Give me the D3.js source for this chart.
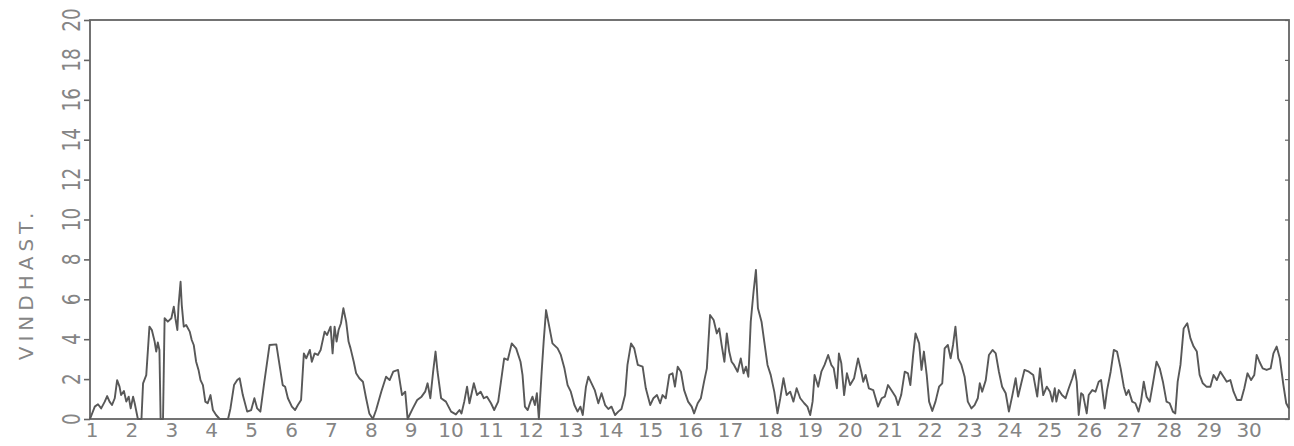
<!DOCTYPE html>
<html>
<head>
<meta charset="utf-8">
<script src="https://cdn.jsdelivr.net/npm/d3@7"></script>
<style>
  body { margin: 0; background: #fff; }
  svg { display: block; }
</style>
</head>
<body>
<svg id="chart" width="1294" height="446"></svg>
<script>
// Hourly wind speed over one month (time in days from the start of day 1, speed in m/s)
const days = [
  0.00, 0.12, 0.20, 0.28, 0.37, 0.43, 0.49, 0.55, 0.62, 0.68, 0.74, 0.78, 0.85, 0.91, 0.97,
  1.02, 1.08, 1.12, 1.20, 1.29, 1.33, 1.41, 1.49, 1.55, 1.62, 1.66, 1.70, 1.74, 1.77, 1.83,
  1.87, 1.95, 2.04, 2.10, 2.14, 2.19, 2.22, 2.27, 2.30, 2.35, 2.41, 2.50, 2.55, 2.60, 2.66,
  2.72, 2.77, 2.83, 2.89, 2.95, 3.02, 3.08, 3.16, 3.25, 3.46, 3.52, 3.61, 3.69, 3.75, 3.83,
  3.94, 4.04, 4.12, 4.19, 4.27, 4.37, 4.50, 4.67, 4.75, 4.83, 4.89, 4.96, 5.06, 5.14, 5.21,
  5.29, 5.36, 5.42, 5.51, 5.56, 5.63, 5.71, 5.78, 5.88, 5.94,
  6.03, 6.08, 6.13, 6.18, 6.23, 6.29, 6.35, 6.42, 6.48, 6.53, 6.61, 6.67, 6.75, 6.84, 6.92,
  7.00, 7.09, 7.17, 7.30, 7.42, 7.51, 7.60, 7.72, 7.82, 7.90, 7.96, 8.09, 8.20, 8.31, 8.40,
  8.46, 8.53, 8.60, 8.66, 8.71, 8.80, 8.92, 9.05, 9.17, 9.26, 9.31, 9.38, 9.45, 9.51, 9.62,
  9.70, 9.79, 9.87, 9.95, 10.05, 10.13, 10.23, 10.30, 10.38, 10.47, 10.57, 10.68, 10.79, 10.84, 10.90,
  10.97, 11.04, 11.09, 11.15, 11.20, 11.25, 11.32, 11.37, 11.43, 11.51, 11.59, 11.72, 11.80, 11.89, 11.97,
  12.05, 12.14, 12.22, 12.29, 12.35, 12.43, 12.49, 12.57, 12.65, 12.74, 12.82, 12.91, 12.99, 13.07, 13.16,
  13.24, 13.32, 13.41, 13.47, 13.56, 13.64, 13.73, 13.85, 13.93, 14.04, 14.12, 14.21, 14.29, 14.35, 14.43,
  14.52, 14.60, 14.66, 14.73, 14.81, 14.89, 14.99, 15.08, 15.14, 15.23, 15.31, 15.39, 15.46, 15.54, 15.63,
  15.71, 15.77, 15.83, 15.90, 15.96, 16.02, 16.08, 16.14, 16.23, 16.31, 16.38, 16.44, 16.50, 16.56, 16.63,
  16.69, 16.74, 16.83, 16.91, 16.98, 17.06, 17.15, 17.23, 17.30, 17.38, 17.46, 17.55, 17.63, 17.71, 17.80,
  17.90, 17.98, 18.05, 18.11, 18.16, 18.25, 18.33, 18.41, 18.50, 18.58, 18.64, 18.72, 18.77, 18.83, 18.90,
  18.97, 19.05, 19.15, 19.25, 19.33, 19.38, 19.44, 19.52, 19.63, 19.75, 19.84, 19.92, 20.00, 20.11, 20.19,
  20.25, 20.33, 20.42, 20.50, 20.56, 20.63, 20.69, 20.78, 20.84, 20.90, 20.97, 21.03, 21.11, 21.19, 21.28,
  21.36, 21.42, 21.50, 21.57, 21.63, 21.69, 21.76, 21.84, 21.92, 22.00, 22.09, 22.17, 22.25, 22.30, 22.36,
  22.45, 22.53, 22.62, 22.70, 22.78, 22.86, 22.95, 23.03, 23.11, 23.20, 23.26, 23.34, 23.42, 23.53, 23.64,
  23.74, 23.81, 23.89, 23.98, 24.06, 24.12, 24.18, 24.22, 24.28, 24.36, 24.45, 24.53, 24.62, 24.68, 24.73,
  24.78, 24.84, 24.89, 24.98, 25.03, 25.12, 25.20, 25.28, 25.34, 25.43, 25.49, 25.58, 25.66, 25.74, 25.83,
  25.91, 25.97, 26.03, 26.12, 26.20, 26.28, 26.34, 26.41, 26.48, 26.56, 26.64, 26.73, 26.81, 26.89, 26.98,
  27.06, 27.14, 27.20, 27.26, 27.33, 27.41, 27.50, 27.58, 27.66, 27.74, 27.81, 27.89, 27.98, 28.08, 28.16,
  28.24, 28.33, 28.41, 28.49, 28.58, 28.66, 28.75, 28.85, 28.93, 29.01, 29.10, 29.18, 29.24, 29.31, 29.39,
  29.49, 29.59, 29.66, 29.74, 29.82, 29.91, 29.98, 30.05
];
const speeds = [
  0.00, 0.62, 0.74, 0.53, 0.87, 1.15, 0.87, 0.70, 1.04, 1.95, 1.62, 1.20, 1.40, 0.87, 1.12,
  0.53, 1.12, 0.79, 0.00, 0.00, 1.79, 2.20, 4.63, 4.46, 3.88, 3.38, 3.84, 3.46, 0.00, 0.00,
  5.05, 4.88, 5.05, 5.63, 5.05, 4.46, 5.71, 6.88, 5.71, 4.63, 4.71, 4.38, 3.96, 3.71, 2.87,
  2.46, 1.95, 1.70, 0.87, 0.79, 1.20, 0.45, 0.20, 0.00, 0.00, 0.53, 1.70, 1.95, 2.04, 1.20,
  0.37, 0.45, 1.04, 0.53, 0.37, 1.87, 3.71, 3.74, 2.71, 1.70, 1.62, 1.04, 0.62, 0.45, 0.70,
  0.95, 3.29, 3.04, 3.46, 2.87, 3.29, 3.21, 3.46, 4.38, 4.21,
  4.63, 3.29, 4.63, 3.88, 4.46, 4.80, 5.55, 4.88, 3.88, 3.54, 2.87, 2.29, 2.04, 1.87, 1.04,
  0.28, 0.00, 0.45, 1.37, 2.12, 1.95, 2.37, 2.46, 1.20, 1.37, 0.00, 0.53, 0.95, 1.12, 1.37,
  1.79, 1.04, 2.37, 3.38, 2.37, 1.04, 0.87, 0.37, 0.23, 0.45, 0.28, 0.87, 1.62, 0.79, 1.79,
  1.20, 1.37, 1.04, 1.12, 0.79, 0.45, 0.87, 1.87, 3.04, 2.96, 3.79, 3.54, 2.87, 2.21, 0.62,
  0.45, 0.87, 1.12, 0.70, 1.29, 0.00, 2.37, 3.88, 5.46, 4.63, 3.79, 3.54, 3.21, 2.54, 1.70,
  1.37, 0.70, 0.37, 0.62, 0.20, 1.62, 2.12, 1.79, 1.45, 0.79, 1.29, 0.70, 0.50, 0.62, 0.20,
  0.37, 0.50, 1.20, 2.71, 3.79, 3.54, 2.71, 2.62, 1.54, 0.70, 1.04, 1.20, 0.79, 1.20, 1.04,
  2.21, 2.29, 1.62, 2.62, 2.37, 1.45, 0.87, 0.62, 0.28, 0.79, 1.04, 1.87, 2.54, 5.21, 4.96,
  4.29, 4.54, 3.71, 2.87, 4.29, 3.38, 2.87, 2.71, 2.37, 3.04, 2.29, 2.62, 2.12, 4.88, 6.38,
  7.47, 5.55, 4.88, 3.71, 2.71, 2.21, 1.37, 0.28, 1.04, 2.04, 1.20, 1.37, 0.87, 1.54, 1.04,
  0.79, 0.62, 0.20, 0.87, 2.21, 1.62, 2.37, 2.71, 3.21, 2.71, 2.54, 1.54, 3.29, 2.79, 1.20,
  2.29, 1.70, 2.04, 3.04, 2.37, 1.87, 2.21, 1.54, 1.45, 0.62, 1.04, 1.12, 1.70, 1.37, 1.12,
  0.70, 1.20, 2.37, 2.29, 1.70, 3.21, 4.29, 3.79, 2.46, 3.38, 2.21, 0.87, 0.40, 0.87, 1.62,
  1.79, 3.54, 3.71, 3.04, 3.71, 4.63, 3.04, 2.71, 2.12, 0.87, 0.53, 0.70, 1.04, 1.79, 1.37,
  1.95, 3.21, 3.46, 3.29, 2.37, 1.62, 1.29, 0.37, 1.12, 2.04, 1.12, 1.79, 2.46, 2.37, 2.21,
  1.12, 2.54, 1.20, 1.62, 1.37, 0.87, 1.54, 0.87, 1.45, 1.20, 1.04, 1.54, 2.04, 2.46, 1.87,
  0.20, 1.29, 1.20, 0.28, 1.20, 1.45, 1.37, 1.87, 1.95, 0.53, 1.45, 2.37, 3.46, 3.38, 2.54,
  1.62, 1.20, 1.45, 0.87, 0.79, 0.37, 0.87, 1.87, 1.12, 0.87, 1.79, 2.87, 2.54, 1.87, 0.87,
  0.79, 0.37, 0.28, 1.87, 2.71, 4.54, 4.80, 4.04, 3.63, 3.38, 2.21, 1.79, 1.62, 1.62, 2.21,
  1.95, 2.37, 2.12, 1.87, 1.95, 1.37, 0.95, 0.95, 1.54, 2.29, 1.95, 2.21, 3.21, 2.87, 2.54,
  2.46, 2.54, 3.29, 3.63, 3.04, 1.70, 0.79, 0.53
];

const yTicks = [0, 2, 4, 6, 8, 10, 12, 14, 16, 18, 20];
const dayLabels = d3.range(1, 31);
const yTitle = "VINDHAST.";

const svg = d3.select("#chart");

const x = d3.scaleLinear().domain([0, 30.05]).range([90, 1289]);
const y = d3.scaleLinear().domain([0, 20]).range([419, 20]);

const inkAxis = "#646464";
const inkText = "#858585";
const inkLine = "#585858";

// slight softening for the plotted trace
const defs = svg.append("defs");
defs.append("filter").attr("id", "soft")
  .append("feGaussianBlur").attr("stdDeviation", 0.5);

// frame
svg.append("rect")
  .attr("x", x(0)).attr("y", y(20))
  .attr("width", x(30.05) - x(0)).attr("height", y(0) - y(20))
  .attr("fill", "none").attr("stroke", inkAxis).attr("stroke-width", 1.8);

// left ticks
const left = svg.append("g").attr("transform", `translate(${x(0)},0)`)
  .call(d3.axisLeft(y).tickValues(yTicks).tickSize(6).tickSizeOuter(0).tickFormat(""));
left.select(".domain").remove();
left.selectAll("line").attr("stroke", inkAxis).attr("stroke-width", 1.6);

// right ticks, pointing inward
const right = svg.append("g").attr("transform", `translate(${x(30.05)},0)`)
  .call(d3.axisLeft(y).tickValues(yTicks).tickSize(4).tickSizeOuter(0).tickFormat(""));
right.select(".domain").remove();
right.selectAll("line").attr("stroke", inkAxis).attr("stroke-width", 1.2);

// y tick labels, rotated
svg.append("g").selectAll("text").data(yTicks).join("text")
  .attr("transform", d => `translate(80,${y(d)}) rotate(-90) scale(0.74,1)`)
  .attr("text-anchor", "middle")
  .attr("font-family", "DejaVu Sans, sans-serif")
  .attr("font-size", 25)
  .attr("fill", inkText)
  .text(d => d);

// day labels along the time axis
svg.append("g").selectAll("text").data(dayLabels).join("text")
  .attr("x", d => x(d - 1) + 2)
  .attr("y", 437)
  .attr("text-anchor", "middle")
  .attr("font-family", "DejaVu Sans, sans-serif")
  .attr("font-size", 20)
  .attr("fill", inkText)
  .text(d => d);

// axis title
svg.append("text")
  .attr("transform", `translate(33,284) rotate(-90)`)
  .attr("text-anchor", "middle")
  .attr("font-family", "DejaVu Sans, sans-serif")
  .attr("font-size", 20)
  .attr("letter-spacing", 5)
  .attr("fill", inkText)
  .text(yTitle);

// wind speed trace
const line = d3.line()
  .x(d => x(d[0]))
  .y(d => y(d[1]));

svg.append("path")
  .datum(d3.zip(days, speeds))
  .attr("d", line)
  .attr("fill", "none")
  .attr("stroke", inkLine)
  .attr("stroke-width", 1.9)
  .attr("stroke-linejoin", "round")
  .attr("filter", "url(#soft)");
</script>
</body>
</html>
